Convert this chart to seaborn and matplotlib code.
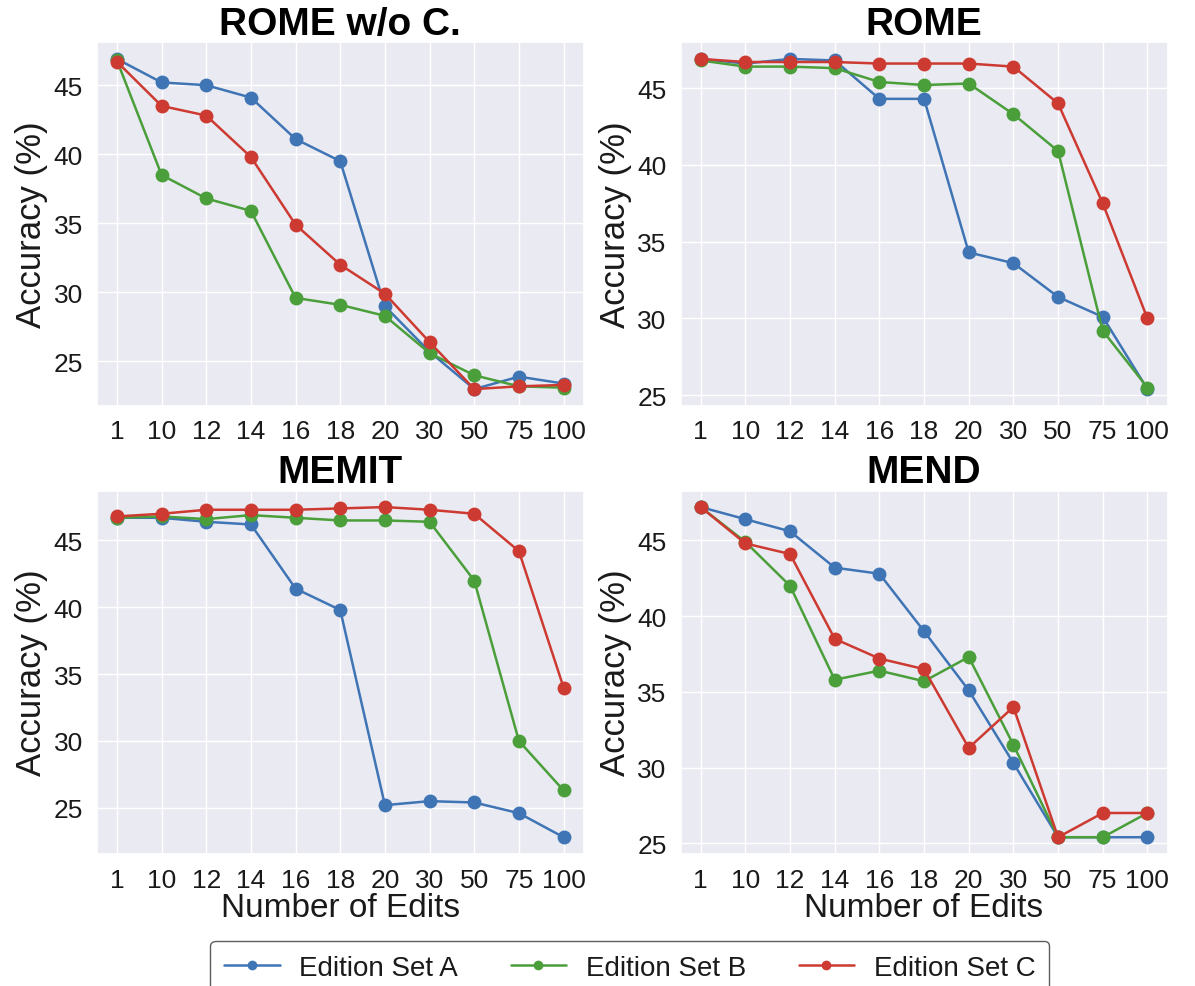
import numpy as np
import pandas as pd
import matplotlib
matplotlib.use("Agg")
import matplotlib.pyplot as plt
import seaborn as sns

edits = ["1", "10", "12", "14", "16", "18", "20", "30", "50", "75", "100"]
set_names = ["Edition Set A", "Edition Set B", "Edition Set C"]

rome_noc_a = [46.9, 45.2, 45.0, 44.1, 41.1, 39.5, 29.0, 25.7, 23.0, 23.9, 23.4]
rome_noc_b = [46.8, 38.5, 36.8, 35.9, 29.6, 29.1, 28.3, 25.6, 24.0, 23.2, 23.1]
rome_noc_c = [46.7, 43.5, 42.8, 39.8, 34.9, 32.0, 29.9, 26.4, 23.0, 23.2, 23.3]

rome_a = [46.9, 46.6, 46.9, 46.8, 44.3, 44.3, 34.3, 33.6, 31.4, 30.1, 25.4]
rome_b = [46.8, 46.4, 46.4, 46.3, 45.4, 45.2, 45.3, 43.3, 40.9, 29.2, 25.5]
rome_c = [46.9, 46.7, 46.7, 46.7, 46.6, 46.6, 46.6, 46.4, 44.0, 37.5, 30.0]

memit_a = [46.7, 46.7, 46.4, 46.2, 41.4, 39.8, 25.2, 25.5, 25.4, 24.6, 22.8]
memit_b = [46.7, 46.8, 46.6, 46.9, 46.7, 46.5, 46.5, 46.4, 42.0, 30.0, 26.3]
memit_c = [46.8, 47.0, 47.3, 47.3, 47.3, 47.4, 47.5, 47.3, 47.0, 44.2, 34.0]

mend_a = [47.2, 46.4, 45.6, 43.2, 42.8, 39.0, 35.1, 30.3, 25.4, 25.4, 25.4]
mend_b = [47.2, 44.9, 42.0, 35.8, 36.4, 35.7, 37.3, 31.5, 25.4, 25.4, 27.0]
mend_c = [47.2, 44.8, 44.1, 38.5, 37.2, 36.5, 31.3, 34.0, 25.4, 27.0, 27.0]

panels = [
    ("ROME w/o C.", [rome_noc_a, rome_noc_b, rome_noc_c]),
    ("ROME", [rome_a, rome_b, rome_c]),
    ("MEMIT", [memit_a, memit_b, memit_c]),
    ("MEND", [mend_a, mend_b, mend_c]),
]

colors = ["#3f74b5", "#4a9f3a", "#cc3a31"]

sns.set_theme(style="darkgrid")
plt.rcParams['font.family'] = ['Liberation Sans', 'DejaVu Sans']
plt.rcParams['text.color'] = '#1a1a1a'
plt.rcParams['axes.labelcolor'] = '#1a1a1a'
plt.rcParams['xtick.color'] = '#1a1a1a'
plt.rcParams['ytick.color'] = '#1a1a1a'

fig, axes = plt.subplots(2, 2, figsize=(11.95, 9.87), dpi=100)
fig.subplots_adjust(left=0.081, right=0.977, top=0.956, bottom=0.134,
                    wspace=0.199, hspace=0.234)

pos = np.arange(len(edits))
for i, (ax, (title, series)) in enumerate(zip(axes.flat, panels)):
    rows = []
    for name, vals in zip(set_names, series):
        for p, v in zip(pos, vals):
            rows.append({"pos": p, "acc": v, "set": name})
    df = pd.DataFrame(rows)
    sns.lineplot(data=df, x="pos", y="acc", hue="set", palette=colors,
                 marker="o", markersize=10, markeredgewidth=0, linewidth=1.8,
                 ax=ax, legend=(i == 0))
    ax.set_xticks(pos)
    ax.set_xticklabels(edits)
    ax.set_xlim(-0.45, len(edits) - 0.55)
    ax.set_yticks([25, 30, 35, 40, 45])
    ax.tick_params(axis="both", labelsize=19, pad=4)
    ax.set_title(title, fontsize=28, fontweight="bold", pad=6, color="black")
    ax.set_ylabel("Accuracy (%)", fontsize=25)
    if i >= 2:
        ax.set_xlabel("Number of Edits", fontsize=24, labelpad=0)
    else:
        ax.set_xlabel("")

handles, labels = axes[0, 0].get_legend_handles_labels()
axes[0, 0].get_legend().remove()
leg = fig.legend(handles, labels, loc="upper center", ncol=3,
                 bbox_to_anchor=(0.527, 0.06), fontsize=20, frameon=True,
                 facecolor="white", edgecolor="#333333", columnspacing=1.9,
                 handlelength=2.0, handletextpad=0.7, borderpad=0.5,
                 markerscale=0.7)
leg.get_frame().set_linewidth(1.0)

fig.savefig("out.png", dpi=100)
